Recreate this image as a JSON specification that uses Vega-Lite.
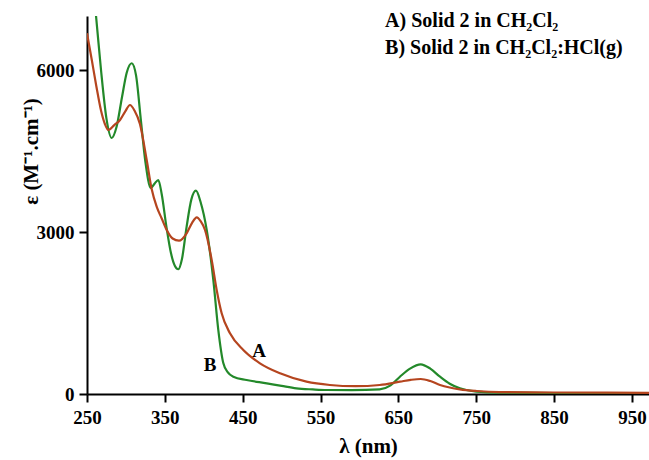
{
  "$schema": "https://vega.github.io/schema/vega-lite/v6.json",
  "width": 562,
  "height": 378,
  "autosize": "none",
  "padding": {"left": 87, "top": 16, "right": 0, "bottom": 66},
  "background": "white",
  "config": {
    "view": {"stroke": null},
    "axis": {
      "grid": false,
      "domainColor": "black",
      "domainWidth": 2,
      "tickColor": "black",
      "tickWidth": 2,
      "tickSize": 8,
      "labelFont": "Liberation Serif",
      "labelFontWeight": "bold",
      "labelFontSize": 19,
      "labelColor": "black",
      "titleFont": "Liberation Serif",
      "titleFontWeight": "bold",
      "titleFontSize": 21,
      "titleColor": "black"
    }
  },
  "datasets": {
    "B": [
      {"nm": 258, "eps": 7500}, {"nm": 261.6, "eps": 7000}, {"nm": 268, "eps": 6000},
      {"nm": 275, "eps": 5100}, {"nm": 281.7, "eps": 4741}, {"nm": 288, "eps": 4950},
      {"nm": 295, "eps": 5500}, {"nm": 301, "eps": 5950}, {"nm": 307.4, "eps": 6125},
      {"nm": 313, "eps": 5900}, {"nm": 319, "eps": 5100}, {"nm": 325, "eps": 4300},
      {"nm": 332, "eps": 3815}, {"nm": 337, "eps": 3900}, {"nm": 341.6, "eps": 3963},
      {"nm": 346, "eps": 3700}, {"nm": 352, "eps": 3100}, {"nm": 358, "eps": 2600},
      {"nm": 363, "eps": 2370}, {"nm": 367.3, "eps": 2310}, {"nm": 372, "eps": 2500},
      {"nm": 378, "eps": 3100}, {"nm": 384, "eps": 3600}, {"nm": 390, "eps": 3765},
      {"nm": 396, "eps": 3550}, {"nm": 403.8, "eps": 3037}, {"nm": 412.3, "eps": 2111},
      {"nm": 418.7, "eps": 1185}, {"nm": 425.1, "eps": 574}, {"nm": 431, "eps": 400},
      {"nm": 438, "eps": 320}, {"nm": 455, "eps": 259}, {"nm": 481, "eps": 198},
      {"nm": 500, "eps": 150}, {"nm": 519, "eps": 105}, {"nm": 540, "eps": 85},
      {"nm": 558, "eps": 74}, {"nm": 590, "eps": 72}, {"nm": 626, "eps": 87},
      {"nm": 640, "eps": 160}, {"nm": 652, "eps": 320}, {"nm": 665, "eps": 470},
      {"nm": 678.7, "eps": 550}, {"nm": 691, "eps": 470}, {"nm": 703.5, "eps": 320},
      {"nm": 716, "eps": 190}, {"nm": 729, "eps": 105}, {"nm": 750, "eps": 43},
      {"nm": 780, "eps": 25}, {"nm": 850, "eps": 18}, {"nm": 972, "eps": 10}
    ],
    "A": [
      {"nm": 250, "eps": 6680}, {"nm": 256, "eps": 6200}, {"nm": 262, "eps": 5700},
      {"nm": 268, "eps": 5250}, {"nm": 273, "eps": 5000}, {"nm": 277.4, "eps": 4890},
      {"nm": 285, "eps": 4980}, {"nm": 292.4, "eps": 5075}, {"nm": 299, "eps": 5230},
      {"nm": 305.2, "eps": 5352}, {"nm": 311, "eps": 5250}, {"nm": 318, "eps": 5000},
      {"nm": 326.7, "eps": 4334}, {"nm": 333, "eps": 3800}, {"nm": 339.5, "eps": 3469},
      {"nm": 346, "eps": 3250}, {"nm": 352.4, "eps": 3037}, {"nm": 360, "eps": 2880},
      {"nm": 368.2, "eps": 2839}, {"nm": 378, "eps": 2976}, {"nm": 385, "eps": 3170},
      {"nm": 391, "eps": 3272}, {"nm": 396, "eps": 3200}, {"nm": 401.6, "eps": 3037},
      {"nm": 410.2, "eps": 2482}, {"nm": 416.6, "eps": 1926}, {"nm": 423, "eps": 1494},
      {"nm": 433.7, "eps": 1124}, {"nm": 450.8, "eps": 815}, {"nm": 472.2, "eps": 568},
      {"nm": 498, "eps": 383}, {"nm": 532, "eps": 228}, {"nm": 562, "eps": 167},
      {"nm": 595, "eps": 145}, {"nm": 626, "eps": 167}, {"nm": 652, "eps": 228},
      {"nm": 666, "eps": 262}, {"nm": 678.7, "eps": 278}, {"nm": 691, "eps": 240},
      {"nm": 703.5, "eps": 167}, {"nm": 716, "eps": 120}, {"nm": 729, "eps": 87},
      {"nm": 750.6, "eps": 56}, {"nm": 780, "eps": 35}, {"nm": 850, "eps": 28},
      {"nm": 972, "eps": 22}
    ],
    "curveLabels": [
      {"label": "A", "nm": 471, "eps": 802},
      {"label": "B", "nm": 408, "eps": 537}
    ],
    "legendLines": [
      {"label": "A) Solid 2 in CH₂Cl₂", "nm": 633, "eps": 6800},
      {"label": "B) Solid 2 in CH₂Cl₂:HCl(g)", "nm": 633, "eps": 6300}
    ]
  },
  "encoding": {
    "x": {
      "field": "nm", "type": "quantitative",
      "scale": {"domain": [250, 972], "nice": false, "zero": false},
      "axis": {"values": [250, 350, 450, 550, 650, 750, 850, 950], "format": "d", "title": "λ (nm)", "labelPadding": 6, "titlePadding": 8, "labelFlush": false}
    },
    "y": {
      "field": "eps", "type": "quantitative",
      "scale": {"domain": [0, 7000], "nice": false},
      "axis": {"values": [0, 3000, 6000], "format": "d", "title": "ε (M⁻¹.cm⁻¹)", "labelPadding": 5, "titleX": -46, "titleY": 135, "labelFlush": false}
    }
  },
  "layer": [
    {
      "data": {"name": "B"},
      "mark": {"type": "line", "interpolate": "monotone", "clip": true, "color": "#23892a", "strokeWidth": 2.2}
    },
    {
      "data": {"name": "A"},
      "mark": {"type": "line", "interpolate": "monotone", "clip": true, "color": "#b5451f", "strokeWidth": 2.2}
    },
    {
      "data": {"name": "curveLabels"},
      "mark": {"type": "text", "font": "Liberation Serif", "fontWeight": "bold", "fontSize": 19, "color": "black", "align": "center", "baseline": "middle"},
      "encoding": {"text": {"field": "label"}}
    },
    {
      "data": {"name": "legendLines"},
      "mark": {"type": "text", "font": "Liberation Serif", "fontWeight": "bold", "fontSize": 20, "color": "black", "align": "left", "baseline": "alphabetic"},
      "encoding": {"text": {"field": "label"}}
    }
  ]
}
